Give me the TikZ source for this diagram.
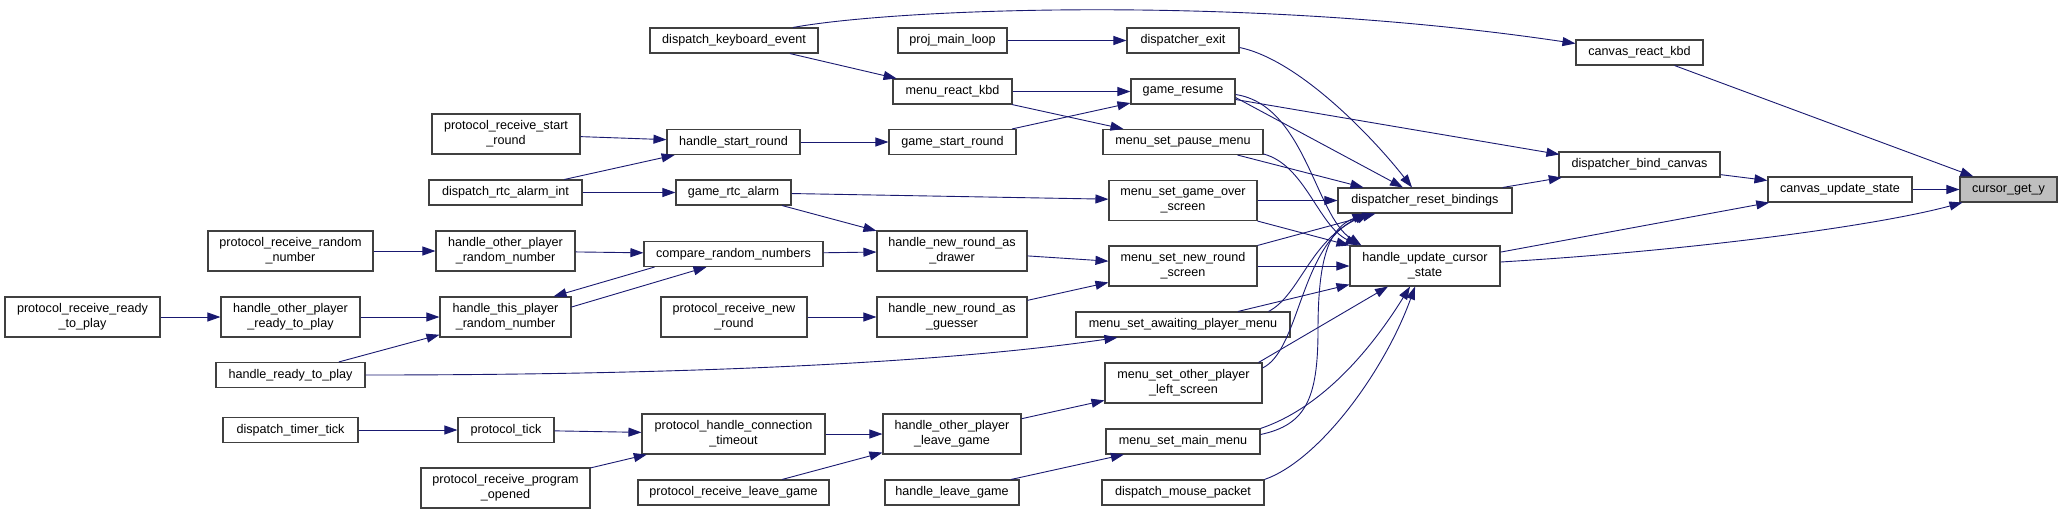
\documentclass[tikz,border=0pt]{standalone}
\usepackage{fontspec}
\setmainfont{Liberation Sans}
\usetikzlibrary{arrows.meta,calc}
\definecolor{edgeblue}{RGB}{25,25,112}
\definecolor{boxgray}{RGB}{64,64,64}
\definecolor{focusgray}{RGB}{191,191,191}

\begin{document}
\begin{tikzpicture}[x=1pt,y=-1pt,
    fn/.style={draw=boxgray, line width=1.1pt, fill=white, inner sep=0pt,
      minimum height=25pt, align=center, font=\fontsize{12.6}{15}\selectfont},
    fntwo/.style={fn, minimum height=40pt},
    call/.style={draw=edgeblue, line width=0.9pt, -{Triangle[length=13pt,width=9pt]}}]
    \useasboundingbox (0,0) rectangle (2063,515);

    % column 1
    \node[fntwo, minimum width=155pt] (prrtp) at (82.5,317) {protocol\_receive\_ready\\\_to\_play};

    % column 2
    \node[fntwo, minimum width=165pt] (prrn) at (290.5,251) {protocol\_receive\_random\\\_number};
    \node[fntwo, minimum width=139pt] (hoprtp) at (290.5,317) {handle\_other\_player\\\_ready\_to\_play};
    \node[fn, minimum width=149pt] (hrtp) at (290.5,375) {handle\_ready\_to\_play};
    \node[fn, minimum width=135pt] (dtt) at (290.5,430) {dispatch\_timer\_tick};

    % column 3
    \node[fntwo, minimum width=148pt] (prsr) at (506,134) {protocol\_receive\_start\\\_round};
    \node[fn, minimum width=153pt] (drai) at (505.5,192.5) {dispatch\_rtc\_alarm\_int};
    \node[fntwo, minimum width=139pt] (hoprn) at (505.5,251) {handle\_other\_player\\\_random\_number};
    \node[fntwo, minimum width=131pt] (htprn) at (505.5,317) {handle\_this\_player\\\_random\_number};
    \node[fn, minimum width=96pt] (pt) at (506,430) {protocol\_tick};
    \node[fntwo, minimum width=169pt] (prpo) at (505.5,488) {protocol\_receive\_program\\\_opened};

    % column 4
    \node[fn, minimum width=168pt] (dke) at (734,40.5) {dispatch\_keyboard\_event};
    \node[fn, minimum width=133pt] (hsr) at (733.5,142) {handle\_start\_round};
    \node[fn, minimum width=115pt] (gra) at (733.5,192.5) {game\_rtc\_alarm};
    \node[fn, minimum width=179pt] (crn) at (733.5,254) {compare\_random\_numbers};
    \node[fntwo, minimum width=146pt] (prnr) at (734,317) {protocol\_receive\_new\\\_round};
    \node[fntwo, minimum width=183pt] (phct) at (733.5,434) {protocol\_handle\_connection\\\_timeout};
    \node[fn, minimum width=191pt] (prlg) at (733.5,492.5) {protocol\_receive\_leave\_game};

    % column 5
    \node[fn, minimum width=109pt] (pml) at (952.5,40.5) {proj\_main\_loop};
    \node[fn, minimum width=119pt] (mrk) at (952.5,91.5) {menu\_react\_kbd};
    \node[fn, minimum width=127pt] (gsr) at (952.5,142) {game\_start\_round};
    \node[fntwo, minimum width=150pt] (hnrad) at (952,251) {handle\_new\_round\_as\\\_drawer};
    \node[fntwo, minimum width=150pt] (hnrag) at (952,317) {handle\_new\_round\_as\\\_guesser};
    \node[fntwo, minimum width=138pt] (hoplg) at (952,434) {handle\_other\_player\\\_leave\_game};
    \node[fn, minimum width=134pt] (hlg) at (952,492.5) {handle\_leave\_game};

    % column 6
    \node[fn, minimum width=112pt] (de) at (1183,40.5) {dispatcher\_exit};
    \node[fn, minimum width=104pt] (gr) at (1183,91.5) {game\_resume};
    \node[fn, minimum width=160pt] (mspm) at (1183,142) {menu\_set\_pause\_menu};
    \node[fntwo, minimum width=148pt] (msgos) at (1183,200.5) {menu\_set\_game\_over\\\_screen};
    \node[fntwo, minimum width=148pt] (msnrs) at (1183,266) {menu\_set\_new\_round\\\_screen};
    \node[fn, minimum width=214pt] (msapm) at (1183,324.5) {menu\_set\_awaiting\_player\_menu};
    \node[fntwo, minimum width=157pt] (msopls) at (1183.5,383) {menu\_set\_other\_player\\\_left\_screen};
    \node[fn, minimum width=154pt] (msmm) at (1183,441.5) {menu\_set\_main\_menu};
    \node[fn, minimum width=162pt] (dmp) at (1183,492.5) {dispatch\_mouse\_packet};

    % column 7
    \node[fn, minimum width=174pt] (drb) at (1425,200.5) {dispatcher\_reset\_bindings};
    \node[fntwo, minimum width=150pt] (hucs) at (1425,266) {handle\_update\_cursor\\\_state};

    % columns 8 to 10
    \node[fn, minimum width=127pt] (crk) at (1639.5,52.5) {canvas\_react\_kbd};
    \node[fn, minimum width=161pt] (dbc) at (1639.5,164.5) {dispatcher\_bind\_canvas};
    \node[fn, minimum width=144pt] (cus) at (1840,189.5) {canvas\_update\_state};
    \node[fn, minimum width=97pt, fill=focusgray] (cgy) at (2008.5,189.5) {cursor\_get\_y};

    % into cursor_get_y
    \draw[call] (cus) -- (cgy);
    \draw[call] (crk) -- (cgy);
    \draw[call] ($(hucs.east)+(0,-4)$) .. controls (1700,250) and (1880,225) .. ($(cgy.south west)+(3,0)$);

    % into canvas_update_state, canvas_react_kbd, dispatcher_bind_canvas
    \draw[call] (dbc) -- (cus);
    \draw[call] (hucs) -- (cus);
    \draw[call] ($(dke.north)+(59,0)$) .. controls (900,8) and (1250,-5) .. ($(crk.west)+(0,-9)$);
    \draw[call] ($(gr.east)+(0,8)$) -- ($(dbc.north west)+(1,3)$);
    \draw[call] (drb) -- (dbc);

    % into dispatcher_reset_bindings
    \draw[call] ($(de.east)+(0,7)$) .. controls (1300,60) and (1375,140) .. ($(drb.north)+(-13,0)$);
    \draw[call] ($(gr.east)+(0,6)$) -- ($(drb.north)+(-22,0)$);
    \draw[call] ($(mspm.south east)+(-26,0)$) -- ($(drb.north west)+(26,0)$);
    \draw[call] (msgos) -- (drb);
    \draw[call] (msnrs.north east) -- ($(drb.south west)+(38,0)$);
    \draw[call] ($(msapm.north east)+(-22,0)$) .. controls (1300,295) and (1310,240) .. ($(drb.south west)+(32,0)$);
    \draw[call] ($(msopls.east)+(0,-15)$) .. controls (1300,350) and (1300,245) .. ($(drb.south west)+(30,0)$);
    \draw[call] ($(msmm.east)+(0,-7)$) .. controls (1305,425) and (1318,400) .. (1318,330)
        .. controls (1318,255) and (1330,228) .. ($(drb.south west)+(28,0)$);

    % into handle_update_cursor_state
    \draw[call] ($(gr.east)+(0,3)$) .. controls (1305,105) and (1315,215) .. ($(hucs.north west)+(12,0)$);
    \draw[call] ($(mspm.east)+(0,12)$) .. controls (1305,165) and (1318,225) .. ($(hucs.north west)+(9,0)$);
    \draw[call] (msgos.south east) -- (hucs.north west);
    \draw[call] (msnrs) -- (hucs);
    \draw[call] ($(msapm.north)+(55,0)$) -- ($(hucs.south west)+(0,-2)$);
    \draw[call] ($(msopls.north east)+(-4,0)$) -- ($(hucs.south)+(-37,0)$);
    \draw[call] (msmm.north east) .. controls (1330,405) and (1380,335) .. ($(hucs.south)+(-15,0)$);
    \draw[call] (dmp.north east) .. controls (1320,460) and (1385,370) .. ($(hucs.south)+(-10,0)$);

    % into column 6
    \draw[call] (pml) -- (de);
    \draw[call] (mrk) -- (gr);
    \draw[call] (mrk) -- (mspm);
    \draw[call] (gsr) -- (gr);
    \draw[call] (gra) -- (msgos);
    \draw[call] (hnrad) -- (msnrs);
    \draw[call] (hnrag) -- (msnrs);
    \draw[call] (hrtp.east) .. controls (700,375) and (950,362) .. ($(msapm.south west)+(42,0)$);
    \draw[call] (hoplg) -- (msopls);
    \draw[call] (hlg) -- (msmm);

    % into column 5
    \draw[call] (dke) -- (mrk);
    \draw[call] (hsr) -- (gsr);
    \draw[call] (gra) -- (hnrad);
    \draw[call] (crn) -- (hnrad);
    \draw[call] (prnr) -- (hnrag);
    \draw[call] (phct) -- (hoplg);
    \draw[call] (prlg) -- (hoplg);

    % into column 4
    \draw[call] (prsr) -- (hsr);
    \draw[call] (drai) -- (hsr);
    \draw[call] (drai) -- (gra);
    \draw[call] (hoprn) -- (crn);
    \draw[call] ($(crn.south west)+(11,0)$) -- ($(htprn.north east)+(-18,0)$);
    \draw[call] ($(htprn.east)+(0,-10)$) -- ($(crn.south)+(-27,0)$);
    \draw[call] (pt) -- (phct);
    \draw[call] (prpo) -- (phct);

    % into columns 2 and 3
    \draw[call] (prrn) -- (hoprn);
    \draw[call] (hoprtp) -- (htprn);
    \draw[call] (hrtp) -- (htprn);
    \draw[call] (dtt) -- (pt);
    \draw[call] (prrtp) -- (hoprtp);
\end{tikzpicture}
\end{document}
